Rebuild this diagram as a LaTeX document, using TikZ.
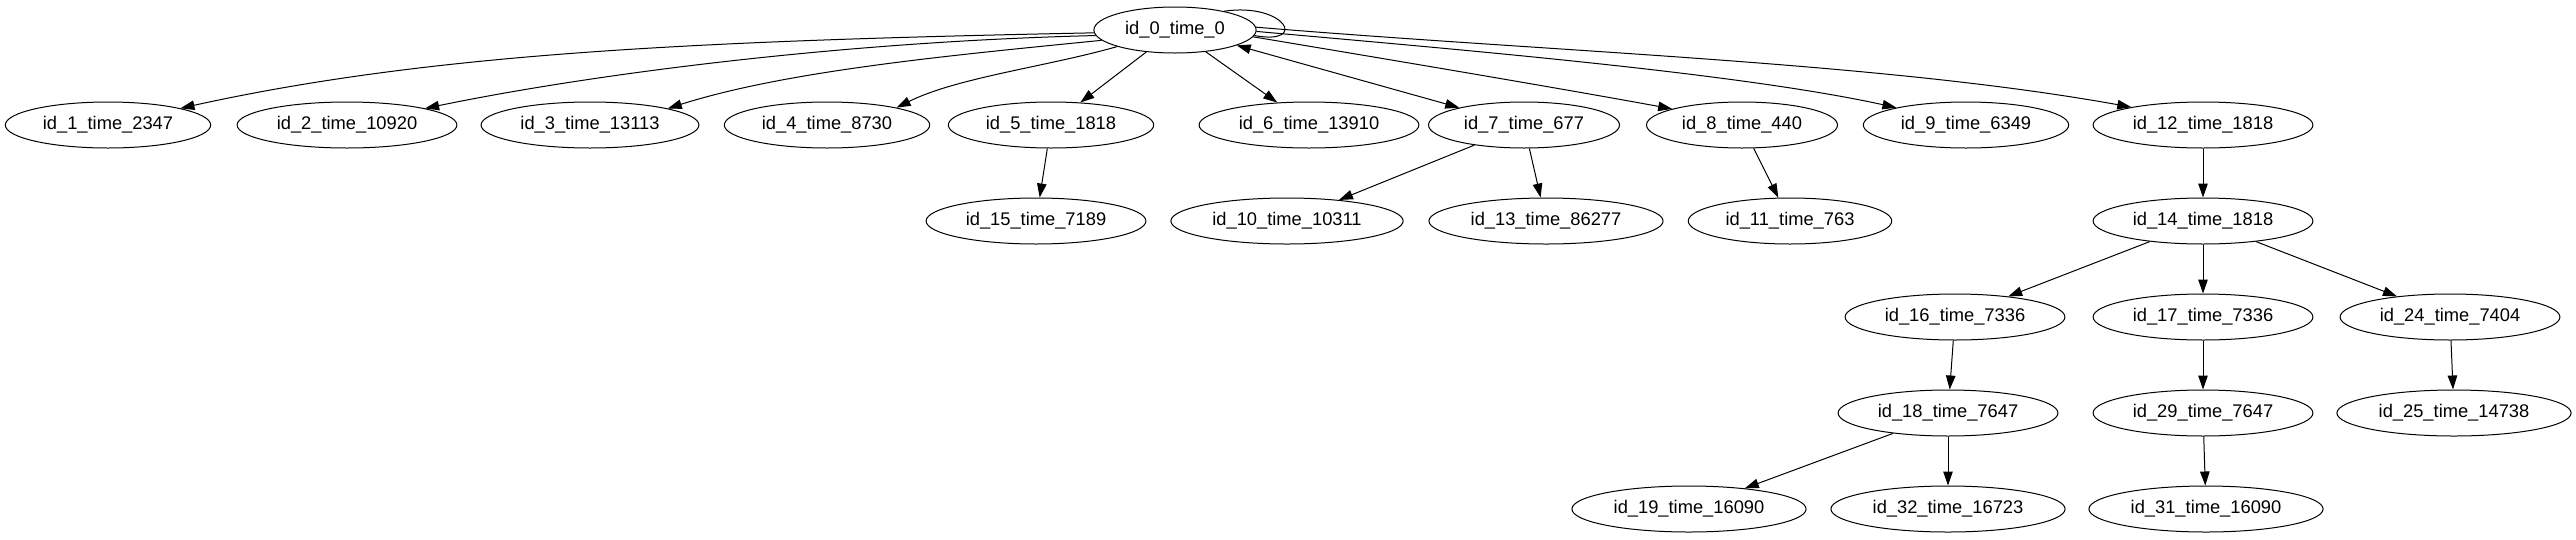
\documentclass[tikz,border=0pt]{standalone}
\usepackage{fontspec}
\setmainfont{Liberation Sans}
\usetikzlibrary{arrows.meta,shapes.geometric}
\begin{document}
\begin{tikzpicture}[x=1pt,y=-1pt,
  gnode/.style={draw,ellipse,line width=1pt,inner xsep=7.5pt,inner ysep=2pt,minimum height=46pt,
    font=\fontsize{18.3}{22}\selectfont},
  edge/.style={line width=1pt,-{Triangle[length=14pt,width=9.5pt]}},
  bedge/.style={line width=1pt,{Triangle[length=14pt,width=9.5pt]}-{Triangle[length=14pt,width=9.5pt]}},
  loopedge/.style={line width=1pt}]
\useasboundingbox (0,0) rectangle (2576,539);
% row 1
\node[gnode] (n0) at (1175,30) {id\_0\_time\_0};
% row 2
\node[gnode] (n1) at (108,125) {id\_1\_time\_2347};
\node[gnode] (n2) at (347,125) {id\_2\_time\_10920};
\node[gnode] (n3) at (590,125) {id\_3\_time\_13113};
\node[gnode] (n4) at (827,125) {id\_4\_time\_8730};
\node[gnode] (n5) at (1051,125) {id\_5\_time\_1818};
\node[gnode] (n6) at (1309,125) {id\_6\_time\_13910};
\node[gnode] (n7) at (1524,125) {id\_7\_time\_677};
\node[gnode] (n8) at (1742,125) {id\_8\_time\_440};
\node[gnode] (n9) at (1966,125) {id\_9\_time\_6349};
\node[gnode] (n12) at (2203,125) {id\_12\_time\_1818};
% row 3
\node[gnode] (n15) at (1036,221) {id\_15\_time\_7189};
\node[gnode] (n10) at (1287,221) {id\_10\_time\_10311};
\node[gnode] (n13) at (1546,221) {id\_13\_time\_86277};
\node[gnode] (n11) at (1790,221) {id\_11\_time\_763};
\node[gnode] (n14) at (2203,221) {id\_14\_time\_1818};
% row 4
\node[gnode] (n16) at (1955,317) {id\_16\_time\_7336};
\node[gnode] (n17) at (2203,317) {id\_17\_time\_7336};
\node[gnode] (n24) at (2450,317) {id\_24\_time\_7404};
% row 5
\node[gnode] (n18) at (1948,413) {id\_18\_time\_7647};
\node[gnode] (n29) at (2203,413) {id\_29\_time\_7647};
\node[gnode] (n25) at (2454,413) {id\_25\_time\_14738};
% row 6
\node[gnode] (n19) at (1689,509) {id\_19\_time\_16090};
\node[gnode] (n32) at (1948,509) {id\_32\_time\_16723};
\node[gnode] (n31) at (2206,509) {id\_31\_time\_16090};

% edges from id_0
\draw[edge] (n0.182) .. controls +(-400,8) and +(250,-55) .. (n1.13);
\draw[edge] (n0.184) .. controls +(-250,6) and +(170,-35) .. (n2.12);
\draw[edge] (n0.188) .. controls +(-150,15) and +(120,-38) .. (n3.12);
\draw[edge] (n0.196) .. controls +(-70,20) and +(60,-30) .. (n4.14);
\draw[edge] (n0) -- (n5);
\draw[edge] (n0) -- (n6);
\draw[bedge] (n0.-14) -- (n7.165);
\draw[edge] (n0.-5) .. controls +(120,20) and +(-120,-22) .. (n8.167);
\draw[edge] (n0.-1) .. controls +(200,18) and +(-160,-35) .. (n9.166);
\draw[edge] (n0.2) .. controls +(300,25) and +(-250,-45) .. (n12.166);
\draw[loopedge] (n0.21) .. controls +(61,-9) and +(55,10) .. (n0.-4);

% lower edges
\draw[edge] (n5) -- (n15);
\draw[edge] (n7) -- (n10);
\draw[edge] (n7) -- (n13);
\draw[edge] (n8) -- (n11);
\draw[edge] (n12) -- (n14);
\draw[edge] (n14) -- (n16);
\draw[edge] (n14) -- (n17);
\draw[edge] (n14) -- (n24);
\draw[edge] (n16) -- (n18);
\draw[edge] (n17) -- (n29);
\draw[edge] (n24) -- (n25);
\draw[edge] (n18) -- (n19);
\draw[edge] (n18) -- (n32);
\draw[edge] (n29) -- (n31);
\end{tikzpicture}
\end{document}
